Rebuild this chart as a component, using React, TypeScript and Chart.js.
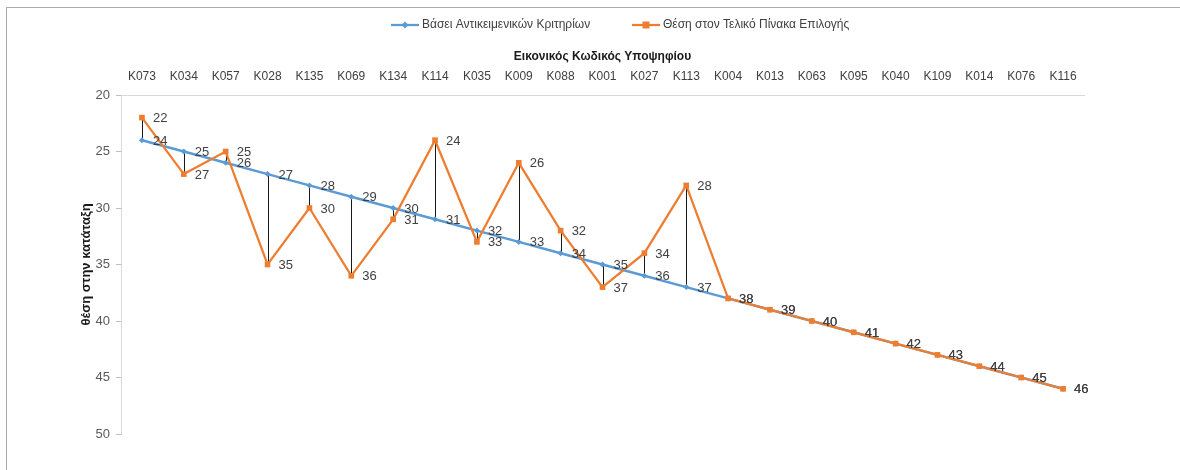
import React, { useEffect, useRef } from "react";
import { Chart, registerables } from "chart.js";

Chart.register(...registerables);

const categories = [
  "K073", "K034", "K057", "K028", "K135", "K069", "K134", "K114", "K035", "K009", "K088", "K001",
  "K027", "K113", "K004", "K013", "K063", "K095", "K040", "K109", "K014", "K076", "K116",
];
const objectiveRank = [24, 25, 26, 27, 28, 29, 30, 31, 32, 33, 34, 35, 36, 37, 38, 39, 40, 41, 42, 43, 44, 45, 46];
const finalRank = [22, 27, 25, 35, 30, 36, 31, 24, 33, 26, 32, 37, 34, 28, 38, 39, 40, 41, 42, 43, 44, 45, 46];
const seriesNames = ["Βάσει Αντικειμενικών Κριτηρίων", "Θέση στον Τελικό Πίνακα Επιλογής"];
const xTitle = "Εικονικός Κωδικός Υποψηφίου";
const yTitle = "θέση στην κατάταξη";
const yMin = 20;
const yMax = 50;
const yStep = 5;

const BLUE = "#5B9BD5";
const ORANGE = "#ED7D31";
const FONT = "'Liberation Sans', 'DejaVu Sans', sans-serif";

const dropLines = {
  id: "dropLines",
  beforeDatasetsDraw(chart: any) {
    const a = chart.getDatasetMeta(0).data;
    const b = chart.getDatasetMeta(1).data;
    const ctx = chart.ctx;
    ctx.save();
    ctx.strokeStyle = "#1a1a1a";
    ctx.lineWidth = 1;
    for (let i = 0; i < a.length; i++) {
      if (!b[i]) continue;
      const x = Math.round(a[i].x) + 0.5;
      ctx.beginPath();
      ctx.moveTo(x, a[i].y);
      ctx.lineTo(x, b[i].y);
      ctx.stroke();
    }
    ctx.restore();
  },
};

const dataLabels = {
  id: "dataLabels",
  afterDatasetsDraw(chart: any) {
    const ctx = chart.ctx;
    ctx.save();
    ctx.font = `13px ${FONT}`;
    ctx.fillStyle = "#404040";
    ctx.textAlign = "left";
    ctx.textBaseline = "middle";
    chart.data.datasets.forEach((ds: any, di: number) => {
      const meta = chart.getDatasetMeta(di);
      meta.data.forEach((pt: any, i: number) => {
        ctx.fillText(String(ds.data[i]), pt.x + 11, pt.y + 1);
      });
    });
    ctx.restore();
  },
};

const frameAndLegend = {
  id: "frameAndLegend",
  afterDraw(chart: any) {
    const ctx = chart.ctx;
    ctx.save();
    ctx.strokeStyle = "#ababab";
    ctx.lineWidth = 1;
    ctx.strokeRect(6.5, 7.5, 1300, 600);
    const items = [
      { x: 391, color: BLUE, style: "diamond", text: seriesNames[0] },
      { x: 632, color: ORANGE, style: "square", text: seriesNames[1] },
    ];
    const y = 25;
    ctx.font = `12px ${FONT}`;
    ctx.textBaseline = "middle";
    ctx.textAlign = "left";
    items.forEach((it) => {
      ctx.strokeStyle = it.color;
      ctx.lineWidth = 2.25;
      ctx.beginPath();
      ctx.moveTo(it.x, y);
      ctx.lineTo(it.x + 28, y);
      ctx.stroke();
      ctx.fillStyle = it.color;
      const cx = it.x + 14;
      if (it.style === "diamond") {
        ctx.beginPath();
        ctx.moveTo(cx, y - 3.5);
        ctx.lineTo(cx + 3.5, y);
        ctx.lineTo(cx, y + 3.5);
        ctx.lineTo(cx - 3.5, y);
        ctx.closePath();
        ctx.fill();
      } else {
        ctx.fillRect(cx - 3.5, y - 3.5, 7, 7);
      }
      ctx.fillStyle = "#404040";
      ctx.fillText(it.text, it.x + 31, y);
    });
    ctx.restore();
  },
};

export default function App() {
  const ref = useRef<HTMLCanvasElement | null>(null);
  useEffect(() => {
    document.body.style.margin = "0";
    if (!ref.current) return;
    const chart = new Chart(ref.current, {
      type: "line",
      data: {
        labels: categories,
        datasets: [
          {
            label: seriesNames[0],
            data: objectiveRank,
            order: 1,
            borderColor: BLUE,
            backgroundColor: BLUE,
            borderWidth: 2.5,
            pointStyle: "rectRot",
            pointRadius: 3,
            pointBorderWidth: 0,
            tension: 0,
          },
          {
            label: seriesNames[1],
            data: finalRank,
            order: 0,
            borderColor: ORANGE,
            backgroundColor: ORANGE,
            borderWidth: 2.25,
            pointStyle: "rect",
            pointRadius: 4,
            pointBorderWidth: 0,
            tension: 0,
          },
        ],
      },
      options: {
        responsive: false,
        animation: false,
        devicePixelRatio: 1,
        layout: { padding: { top: 45, left: 76, right: 96, bottom: 36 } },
        plugins: { legend: { display: false }, tooltip: { enabled: false } },
        scales: {
          x: {
            position: "top",
            offset: true,
            grid: { display: false, drawTicks: false },
            border: { display: true, color: "#d9d9d9", width: 1 },
            ticks: {
              color: "#404040",
              font: { family: FONT, size: 12 },
              padding: 11,
              maxRotation: 0,
              autoSkip: false,
            },
            title: {
              display: true,
              text: xTitle,
              color: "#1a1a1a",
              font: { family: FONT, size: 12, weight: "bold" },
              padding: { top: 4, bottom: 4 },
            },
            afterFit(scale: any) {
              scale.height = 50;
            },
          },
          y: {
            reverse: true,
            min: yMin,
            max: yMax,
            grid: { drawOnChartArea: false, drawTicks: true, tickLength: 5, color: "#bfbfbf" },
            border: { display: true, color: "#d9d9d9", width: 1 },
            ticks: {
              stepSize: yStep,
              color: "#595959",
              font: { family: FONT, size: 13 },
              padding: 6,
            },
            title: {
              display: true,
              text: yTitle,
              color: "#1a1a1a",
              font: { family: FONT, size: 13, weight: "bold" },
              padding: { top: 3, bottom: 3 },
            },
            afterFit(scale: any) {
              scale.width = 45;
            },
          },
        },
      },
      plugins: [dropLines, dataLabels, frameAndLegend],
    });
    return () => chart.destroy();
  }, []);
  return <canvas ref={ref} width={1180} height={470} style={{ display: "block" }} />;
}
